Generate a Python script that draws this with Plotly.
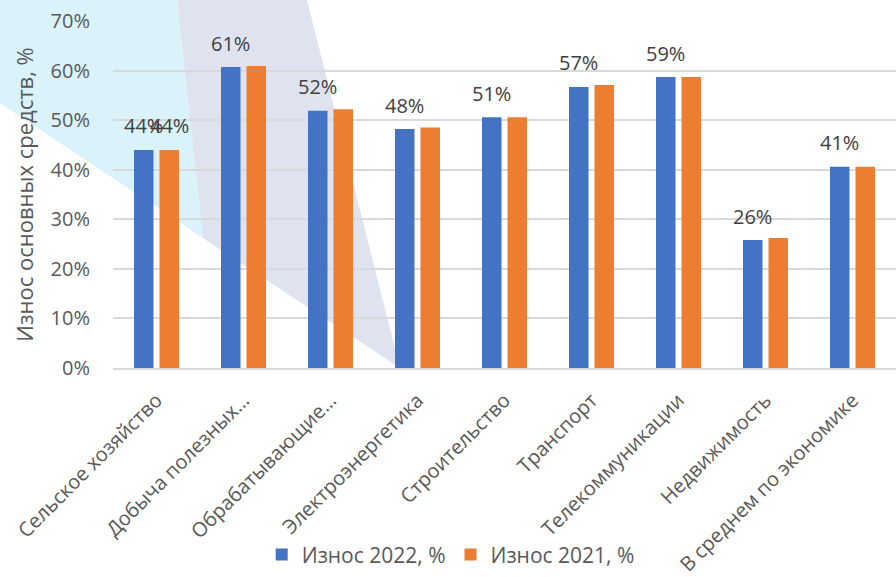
import plotly.graph_objects as go

# Sector names as shown on the category axis
categories = [
    "Сельское хозяйство",
    "Добыча полезных…",
    "Обрабатывающие…",
    "Электроэнергетика",
    "Строительство",
    "Транспорт",
    "Телекоммуникации",
    "Недвижимость",
    "В среднем по экономике",
]

# Depreciation of fixed assets, percent
wear_2022 = [44.0, 60.7, 51.9, 48.2, 50.6, 56.7, 58.7, 25.8, 40.6]
wear_2021 = [44.0, 60.9, 52.2, 48.5, 50.6, 57.1, 58.7, 26.2, 40.6]

# Which bars carry a value label
label_2022 = [True] * 9
label_2021 = [True, False, False, False, False, False, False, False, False]

y_ticks = [0, 10, 20, 30, 40, 50, 60, 70]
y_tick_text = [f"{t}%" for t in y_ticks]

BLUE = "#4472C4"
ORANGE = "#ED7D31"
AXIS_GREY = "#595959"
LABEL_GREY = "#404040"
FONT = "Open Sans"

W, H = 896, 577
M_L, M_R, M_T, M_B = 113, 0, 21, 209
PLOT_W = W - M_L - M_R
PLOT_H = H - M_T - M_B
BARGAP = 0.414
BARGROUPGAP = 0.235


def px_to_paper(points):
    """Convert pixel points (from the top-left corner) to paper coordinates."""
    out = []
    for x, y in points:
        out.append(((x - M_L) / PLOT_W, (H - M_B - y) / PLOT_H))
    return out


def path_from(points):
    pts = px_to_paper(points)
    return "M " + " L ".join(f"{x:.4f},{y:.4f}" for x, y in pts) + " Z"


fig = go.Figure()
fig.add_trace(go.Bar(name="Износ 2022, %", x=categories, y=wear_2022,
                     marker=dict(color=BLUE, line=dict(width=0))))
fig.add_trace(go.Bar(name="Износ 2021, %", x=categories, y=wear_2021,
                     marker=dict(color=ORANGE, line=dict(width=0))))

# Decorative background panels
fig.add_shape(type="path", xref="paper", yref="paper", layer="below",
              path=path_from([(0, 0), (177, 0), (203, 238), (0, 103)]),
              fillcolor="#DAF2FA", line=dict(width=0))
fig.add_shape(type="path", xref="paper", yref="paper", layer="below",
              path=path_from([(177, 0), (307, 0), (400, 368), (203, 238)]),
              fillcolor="#DFE3EF", line=dict(width=0))

# Value labels, centred above their own bar within each group
cat_px = PLOT_W / len(categories)
slot = (1 - BARGAP) / 2 * cat_px
shift = {0: -slot / 2, 1: slot / 2}
for s, (vals, show) in enumerate([(wear_2022, label_2022), (wear_2021, label_2021)]):
    for c, v, on in zip(categories, vals, show):
        if not on:
            continue
        fig.add_annotation(x=c, y=v, xref="x", yref="y", text=f"{v:.0f}%",
                           showarrow=False, xshift=shift[s], yshift=24,
                           yanchor="middle",
                           font=dict(family=FONT, size=20, color=LABEL_GREY))

fig.update_layout(
    width=W, height=H,
    margin=dict(l=M_L, r=M_R, t=M_T, b=M_B, pad=0, autoexpand=False),
    paper_bgcolor="white",
    plot_bgcolor="rgba(0,0,0,0)",
    barmode="group", bargap=BARGAP, bargroupgap=BARGROUPGAP,
    font=dict(family=FONT, color=AXIS_GREY),
    showlegend=True,
    legend=dict(orientation="h", xref="container", yref="container",
                x=0.503, xanchor="center", y=0.003, yanchor="bottom",
                font=dict(family=FONT, size=21, color=AXIS_GREY),
                itemwidth=30, tracegroupgap=0, bgcolor="rgba(0,0,0,0)"),
)
fig.update_yaxes(range=[0, 70], tickvals=y_ticks, ticktext=y_tick_text,
                 automargin=False,
                 showgrid=True, gridcolor="#D9D9D9", gridwidth=1.5,
                 zeroline=False, showline=False, ticks="",
                 ticklabelstandoff=22,
                 tickfont=dict(family=FONT, size=20, color=AXIS_GREY),
                 title=dict(text="Износ основных средств, %", standoff=10,
                            font=dict(family=FONT, size=22, color=AXIS_GREY)))
fig.update_xaxes(tickangle=-45, showline=True, linecolor="#D9D9D9", linewidth=1.5,
                 automargin=False,
                 showgrid=False, ticks="", ticklabelstandoff=11,
                 tickfont=dict(family=FONT, size=20, color=AXIS_GREY))

fig.write_html("out.html")
